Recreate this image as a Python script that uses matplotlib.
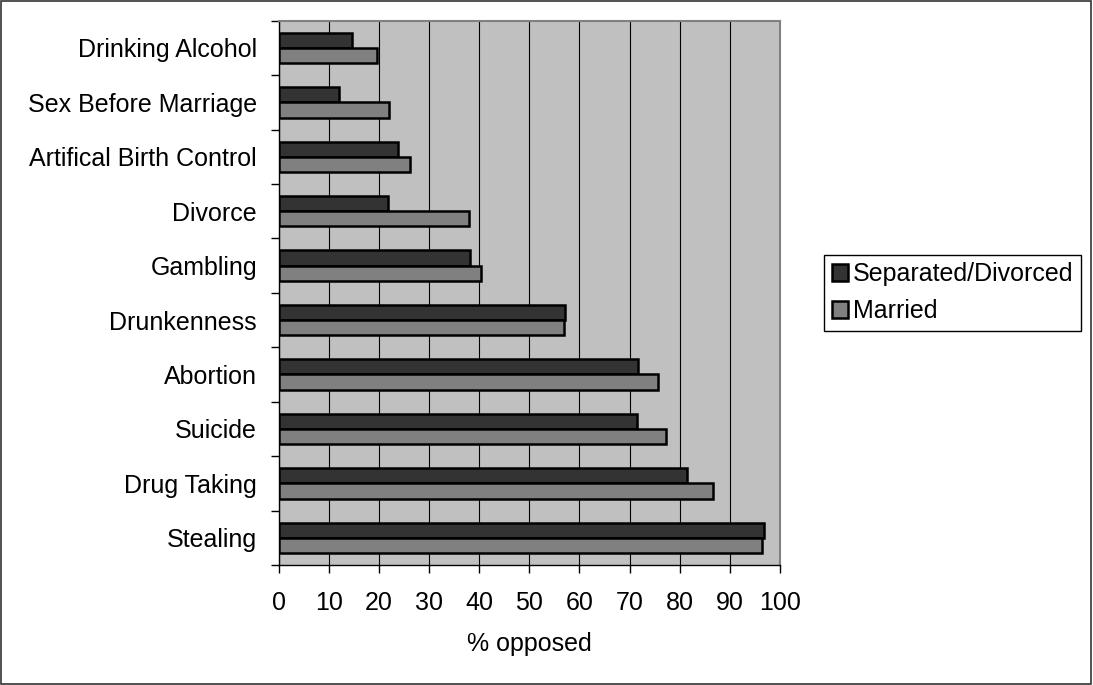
import numpy as np
import matplotlib.pyplot as plt
from matplotlib.patches import Rectangle

plt.rcParams['font.family'] = ['Liberation Sans', 'DejaVu Sans']

# 数据（从上到下）
categories = ['Drinking Alcohol', 'Sex Before Marriage', 'Artifical Birth Control',
              'Divorce', 'Gambling', 'Drunkenness', 'Abortion', 'Suicide',
              'Drug Taking', 'Stealing']
separated = [14.6, 12.0, 23.7, 21.9, 38.1, 57.1, 71.7, 71.4, 81.5, 96.9]
married = [19.6, 22.1, 26.1, 38.0, 40.4, 57.0, 75.7, 77.3, 86.7, 96.5]
x_ticks = list(range(0, 101, 10))

fig = plt.figure(figsize=(10.93, 6.85), dpi=100)
ax = fig.add_axes([0.2550, 0.1752, 0.7136 - 0.2550, 0.9698 - 0.1752])

y = np.arange(len(categories))
h = 0.28
ax.barh(y - h / 2, separated, height=h, color='#333333', edgecolor='black',
        linewidth=1.8, label='Separated/Divorced', zorder=3)
ax.barh(y + h / 2, married, height=h, color='#808080', edgecolor='black',
        linewidth=1.8, label='Married', zorder=3)

ax.set_facecolor('#C0C0C0')
ax.set_xlim(0, 100)
ax.set_ylim(len(categories) - 0.5, -0.5)

ax.set_xticks(x_ticks)
ax.set_xticklabels([str(v) for v in x_ticks], fontsize=18)
ax.tick_params(axis='x', length=6, width=1, pad=13, color='black')
ax.xaxis.grid(True, color='black', linewidth=0.8, zorder=1)
ax.set_axisbelow(True)

ax.set_yticks(y)
ax.set_yticklabels(categories, fontsize=18)
ax.set_yticks(np.arange(len(categories) + 1) - 0.5, minor=True)
ax.tick_params(axis='y', which='major', length=0, pad=15.6)
ax.tick_params(axis='y', which='minor', length=6, width=1, color='black')

ax.set_xlabel('% opposed', fontsize=18, labelpad=12)

for s in ['left', 'bottom']:
    ax.spines[s].set_color('black')
    ax.spines[s].set_linewidth(1)
for s in ['top', 'right']:
    ax.spines[s].set_color('#808080')
    ax.spines[s].set_linewidth(1.5)

leg = ax.legend(loc='upper left', bbox_to_anchor=(824 / 1093, 1 - 255 / 685),
                bbox_transform=fig.transFigure, borderaxespad=0, fontsize=18,
                handlelength=0.67, handleheight=0.67, handletextpad=0.2,
                borderpad=0.3, labelspacing=0.5, fancybox=False,
                framealpha=1, edgecolor='black')
leg.get_frame().set_linewidth(1)
for p in leg.get_patches():
    p.set_linewidth(1.8)

# 外框
fig.patches.append(Rectangle((0.001, 0.001), 0.997, 0.997, transform=fig.transFigure,
                             fill=False, edgecolor='#333333', linewidth=1.2))

fig.savefig('out.png', dpi=100)
